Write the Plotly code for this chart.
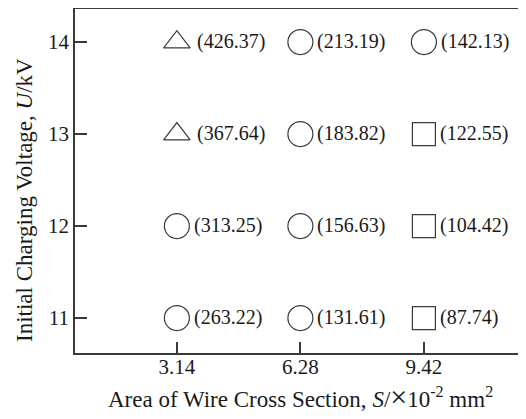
import plotly.graph_objects as go

# Data
area_ticks = [3.14, 6.28, 9.42]
voltage_ticks = [11, 12, 13, 14]

tri_x = [3.14, 3.14]
tri_y = [14, 13]
tri_val = [426.37, 367.64]

cir_x = [3.14, 3.14, 6.28, 6.28, 6.28, 6.28, 9.42]
cir_y = [12, 11, 14, 13, 12, 11, 14]
cir_val = [313.25, 263.22, 213.19, 183.82, 156.63, 131.61, 142.13]

sq_x = [9.42, 9.42, 9.42]
sq_y = [13, 12, 11]
sq_val = [122.55, 104.42, 87.74]

x_title = ("Area of Wire Cross Section, <i>S</i>/<span style='font-size:30px'>×</span>"
           "10<sup>-2</sup> mm<sup>2</sup>")
y_title = "Initial Charging Voltage, <i>U</i>/kV"

FONT = "Liberation Serif, Times New Roman, serif"
LINE = "#3a3a3a"
TXT = "#1a1a1a"

fig = go.Figure()
series = [
    (tri_x, tri_y, tri_val, "triangle-up-open", 23, 18),
    (cir_x, cir_y, cir_val, "circle-open", 25, 15),
    (sq_x, sq_y, sq_val, "square-open", 23, 14),
]
annotations = []
for xs, ys, vals, sym, size, shift in series:
    fig.add_trace(go.Scatter(
        x=xs, y=ys, mode="markers",
        marker=dict(symbol=sym, size=size, color=LINE, line=dict(width=1.2, color=LINE)),
        showlegend=False, hoverinfo="skip"))
    for x, y, v in zip(xs, ys, vals):
        annotations.append(dict(
            x=x, y=y, text=f"({v:.2f})", showarrow=False, xanchor="left",
            yanchor="middle", xshift=shift, yshift=1,
            font=dict(family=FONT, size=20, color=TXT)))

annotations.append(dict(
    text=x_title, xref="paper", yref="paper", x=0.5, y=-0.125,
    xanchor="center", yanchor="middle", showarrow=False,
    font=dict(family=FONT, size=23, color=TXT)))
annotations.append(dict(
    text=y_title, xref="paper", yref="paper", x=-0.111, y=0.445, textangle=-90,
    xanchor="center", yanchor="middle", showarrow=False,
    font=dict(family=FONT, size=23, color=TXT)))

# page body has an 8px margin, so the figure is drawn 8px in from the window edge
fig.update_layout(
    width=518, height=411,
    margin=dict(l=67, r=1, t=1, b=66),
    paper_bgcolor="white", plot_bgcolor="white",
    font=dict(family=FONT, size=20, color=TXT),
    annotations=annotations,
)
fig.update_xaxes(
    range=[0.55, 11.99], tickvals=area_ticks, ticktext=[f"{v:.2f}" for v in area_ticks],
    ticks="inside", ticklen=11, tickwidth=1.5, tickcolor=LINE,
    showline=True, linecolor=LINE, linewidth=1.5, mirror=True,
    showgrid=False, zeroline=False, automargin=False,
    tickfont=dict(family=FONT, size=21, color=TXT), ticklabelstandoff=-6,
)
fig.update_yaxes(
    range=[10.62, 14.36], tickvals=voltage_ticks,
    ticks="inside", ticklen=12, tickwidth=1.5, tickcolor=LINE,
    showline=True, linecolor=LINE, linewidth=1.5, mirror=True,
    showgrid=False, zeroline=False, automargin=False,
    tickfont=dict(family=FONT, size=21, color=TXT),
)

fig.write_html("out.html")
